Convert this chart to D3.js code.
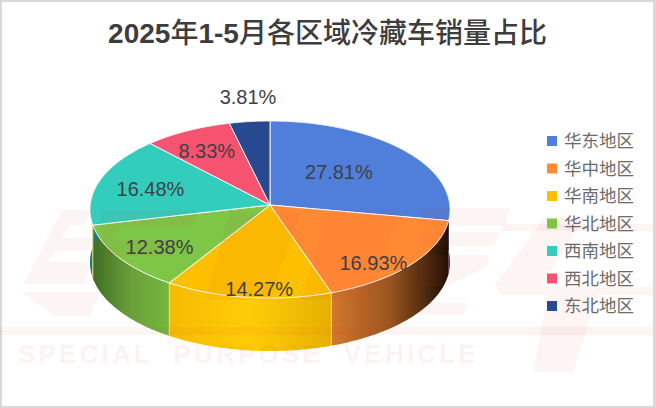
<!DOCTYPE html>
<html><head><meta charset="utf-8">
<script src="https://cdn.jsdelivr.net/npm/d3@7/dist/d3.min.js"></script>
<style>html,body{margin:0;padding:0;background:#fff}svg{display:block}</style>
</head><body><svg id="c" width="656" height="408"></svg>
<script>
const titleParts = ["2025","年","1-5","月各区域冷藏车销量占比"];
const categories = ["华东地区","华中地区","华南地区","华北地区","西南地区","西北地区","东北地区"];
const shares = [27.81,16.93,14.27,12.38,16.48,8.33,3.81];
const palette = ["#4f7edb","#ff8a33","#fdc000","#7dc646","#33cdbd","#f5536f","#26498f"];
const sideStops = [
  ["#3c66b8","#24437f"],
  ["#d4772c","#9a5520","#1c0e02"],
  ["#f6bb02","#ffcc08","#e6b000"],
  ["#3f6e25","#6a9f3a","#76b83e"],
  ["#0f7f80","#1a9a98"],
  ["#b03a50","#b03a50"],
  ["#1c3a72","#1c3a72"]
];
const labelOffsets = [[1,-5],[34,29],[0,39],[-36,16],[-34,-3],[-21,-16],[-11.5,-65]];
const watermarkShapes = [
  "0,327 653,327 653,335 0,335",
  "62,210 92,210 84,225 70,225 62,238 92,238 88,251 56,251 48,262 92,262 84,284 24,284",
  "22,292 100,292 90,316 55,316",
  "100,210 200,210 190,226 120,226 112,240 180,240 172,256 104,256",
  "230,212 300,212 270,300 205,300",
  "330,210 400,210 370,300 300,300",
  "420,208 511,208 504,226 425,226",
  "420,232 500,232 494,246 420,246",
  "420,255 490,255 486,268 445,286 420,286",
  "420,303 468,303 463,315 420,315",
  "505,224 653,224 653,231 500,231",
  "545,217 585,217 540,287 653,287 653,295 500,295 495,285",
  "548,295 598,295 573,372 533,372"
];

const W=656,H=408,cx=270,cy=205,k=0.0508,a=88.3,b=179.8,depth=53;
const svg=d3.select("#c");
const defs=svg.append("defs");
svg.append("rect").attr("width",W).attr("height",H).attr("fill","#d9d9d9");
svg.append("rect").attr("x",2).attr("y",2).attr("width",651).attr("height",404).attr("fill","#fff");

const proj=(ang,r=1,dz=0)=>{const u=r*Math.sin(ang),v=-r*Math.cos(ang),d=1-k*v;
  return [cx+b*u/d, cy+a*v/d+dz];};
const arcs=d3.pie().sort(null).value(d=>d)(shares);
const sample=(s,e)=>{const n=Math.max(4,Math.ceil((e-s)/0.02));return d3.range(n+1).map(i=>s+(e-s)*i/n);};
const line=d3.line();

const sides=svg.append("g");
arcs.forEach((d,i)=>{
  const angs=sample(d.startAngle,d.endAngle);
  const top=angs.map(t=>proj(t));
  const bot=angs.slice().reverse().map(t=>proj(t,1,depth));
  const xs=top.map(p=>p[0]);
  const g=defs.append("linearGradient").attr("id","s"+i).attr("gradientUnits","userSpaceOnUse")
    .attr("x1",d3.min(xs)).attr("x2",d3.max(xs)).attr("y1",0).attr("y2",0);
  sideStops[i].forEach((c,j,arr)=>g.append("stop").attr("offset",j/(arr.length-1)).attr("stop-color",c));
  sides.append("path").attr("d",line(top.concat(bot))+"Z").attr("fill",`url(#s${i})`);
  const p0=proj(d.startAngle),p1=proj(d.startAngle,1,depth);
  if(p0[1]>cy+20) sides.append("line").attr("x1",p0[0]).attr("y1",p0[1]).attr("x2",p1[0]).attr("y2",p1[1])
    .attr("stroke","#f6dc80").attr("stroke-width",1);
});

const topG=svg.append("g");
arcs.forEach((d,i)=>{
  const pts=[[cx,cy]].concat(sample(d.startAngle,d.endAngle).map(t=>proj(t)));
  topG.append("path").attr("d",line(pts)+"Z").attr("fill",palette[i])
    .attr("stroke","#fff").attr("stroke-opacity",0.9).attr("stroke-width",1).attr("stroke-linejoin","round");
});

const wm=svg.append("g").attr("fill","#e23c3c").attr("fill-opacity",0.055);
watermarkShapes.forEach(p=>wm.append("polygon").attr("points",p));
svg.append("text").attr("x",18).attr("y",363).attr("font-family","Liberation Sans").attr("font-weight",700)
  .attr("font-size",26).attr("letter-spacing",3.2).style("white-space","pre")
  .attr("stroke","#e23c3c").attr("stroke-opacity",0.03).attr("stroke-width",0.8)
  .attr("fill","#e23c3c").attr("fill-opacity",0.08).text("SPECIAL  PURPOSE  VEHICLE");

const title=svg.append("text").attr("x",327.5).attr("y",43).attr("text-anchor","middle")
  .attr("font-family","'Liberation Sans','Noto Sans CJK SC'").attr("font-size",28).attr("fill","#3d3d3d");
titleParts.forEach((t,i)=>title.append("tspan").attr("font-weight",i%2?500:700).text(t));

arcs.forEach((d,i)=>{
  const p=proj((d.startAngle+d.endAngle)/2,0.5);
  svg.append("text").attr("x",p[0]+labelOffsets[i][0]).attr("y",p[1]+labelOffsets[i][1]+7)
    .attr("text-anchor","middle").attr("font-family","Liberation Sans").attr("font-size",20)
    .attr("fill","#3f3f46").text(d3.format(".2f")(d.value)+"%");
});

const ly=d3.scalePoint().domain(categories).range([141,306]);
categories.forEach((c,i)=>{
  svg.append("rect").attr("x",547).attr("y",ly(c)-5).attr("width",10).attr("height",10).attr("fill",palette[i]);
  svg.append("text").attr("x",564).attr("y",ly(c)+6).attr("font-family","'Noto Sans CJK SC'")
    .attr("font-size",17.5).attr("fill","#6b6b6b").text(c);
});
</script></body></html>
